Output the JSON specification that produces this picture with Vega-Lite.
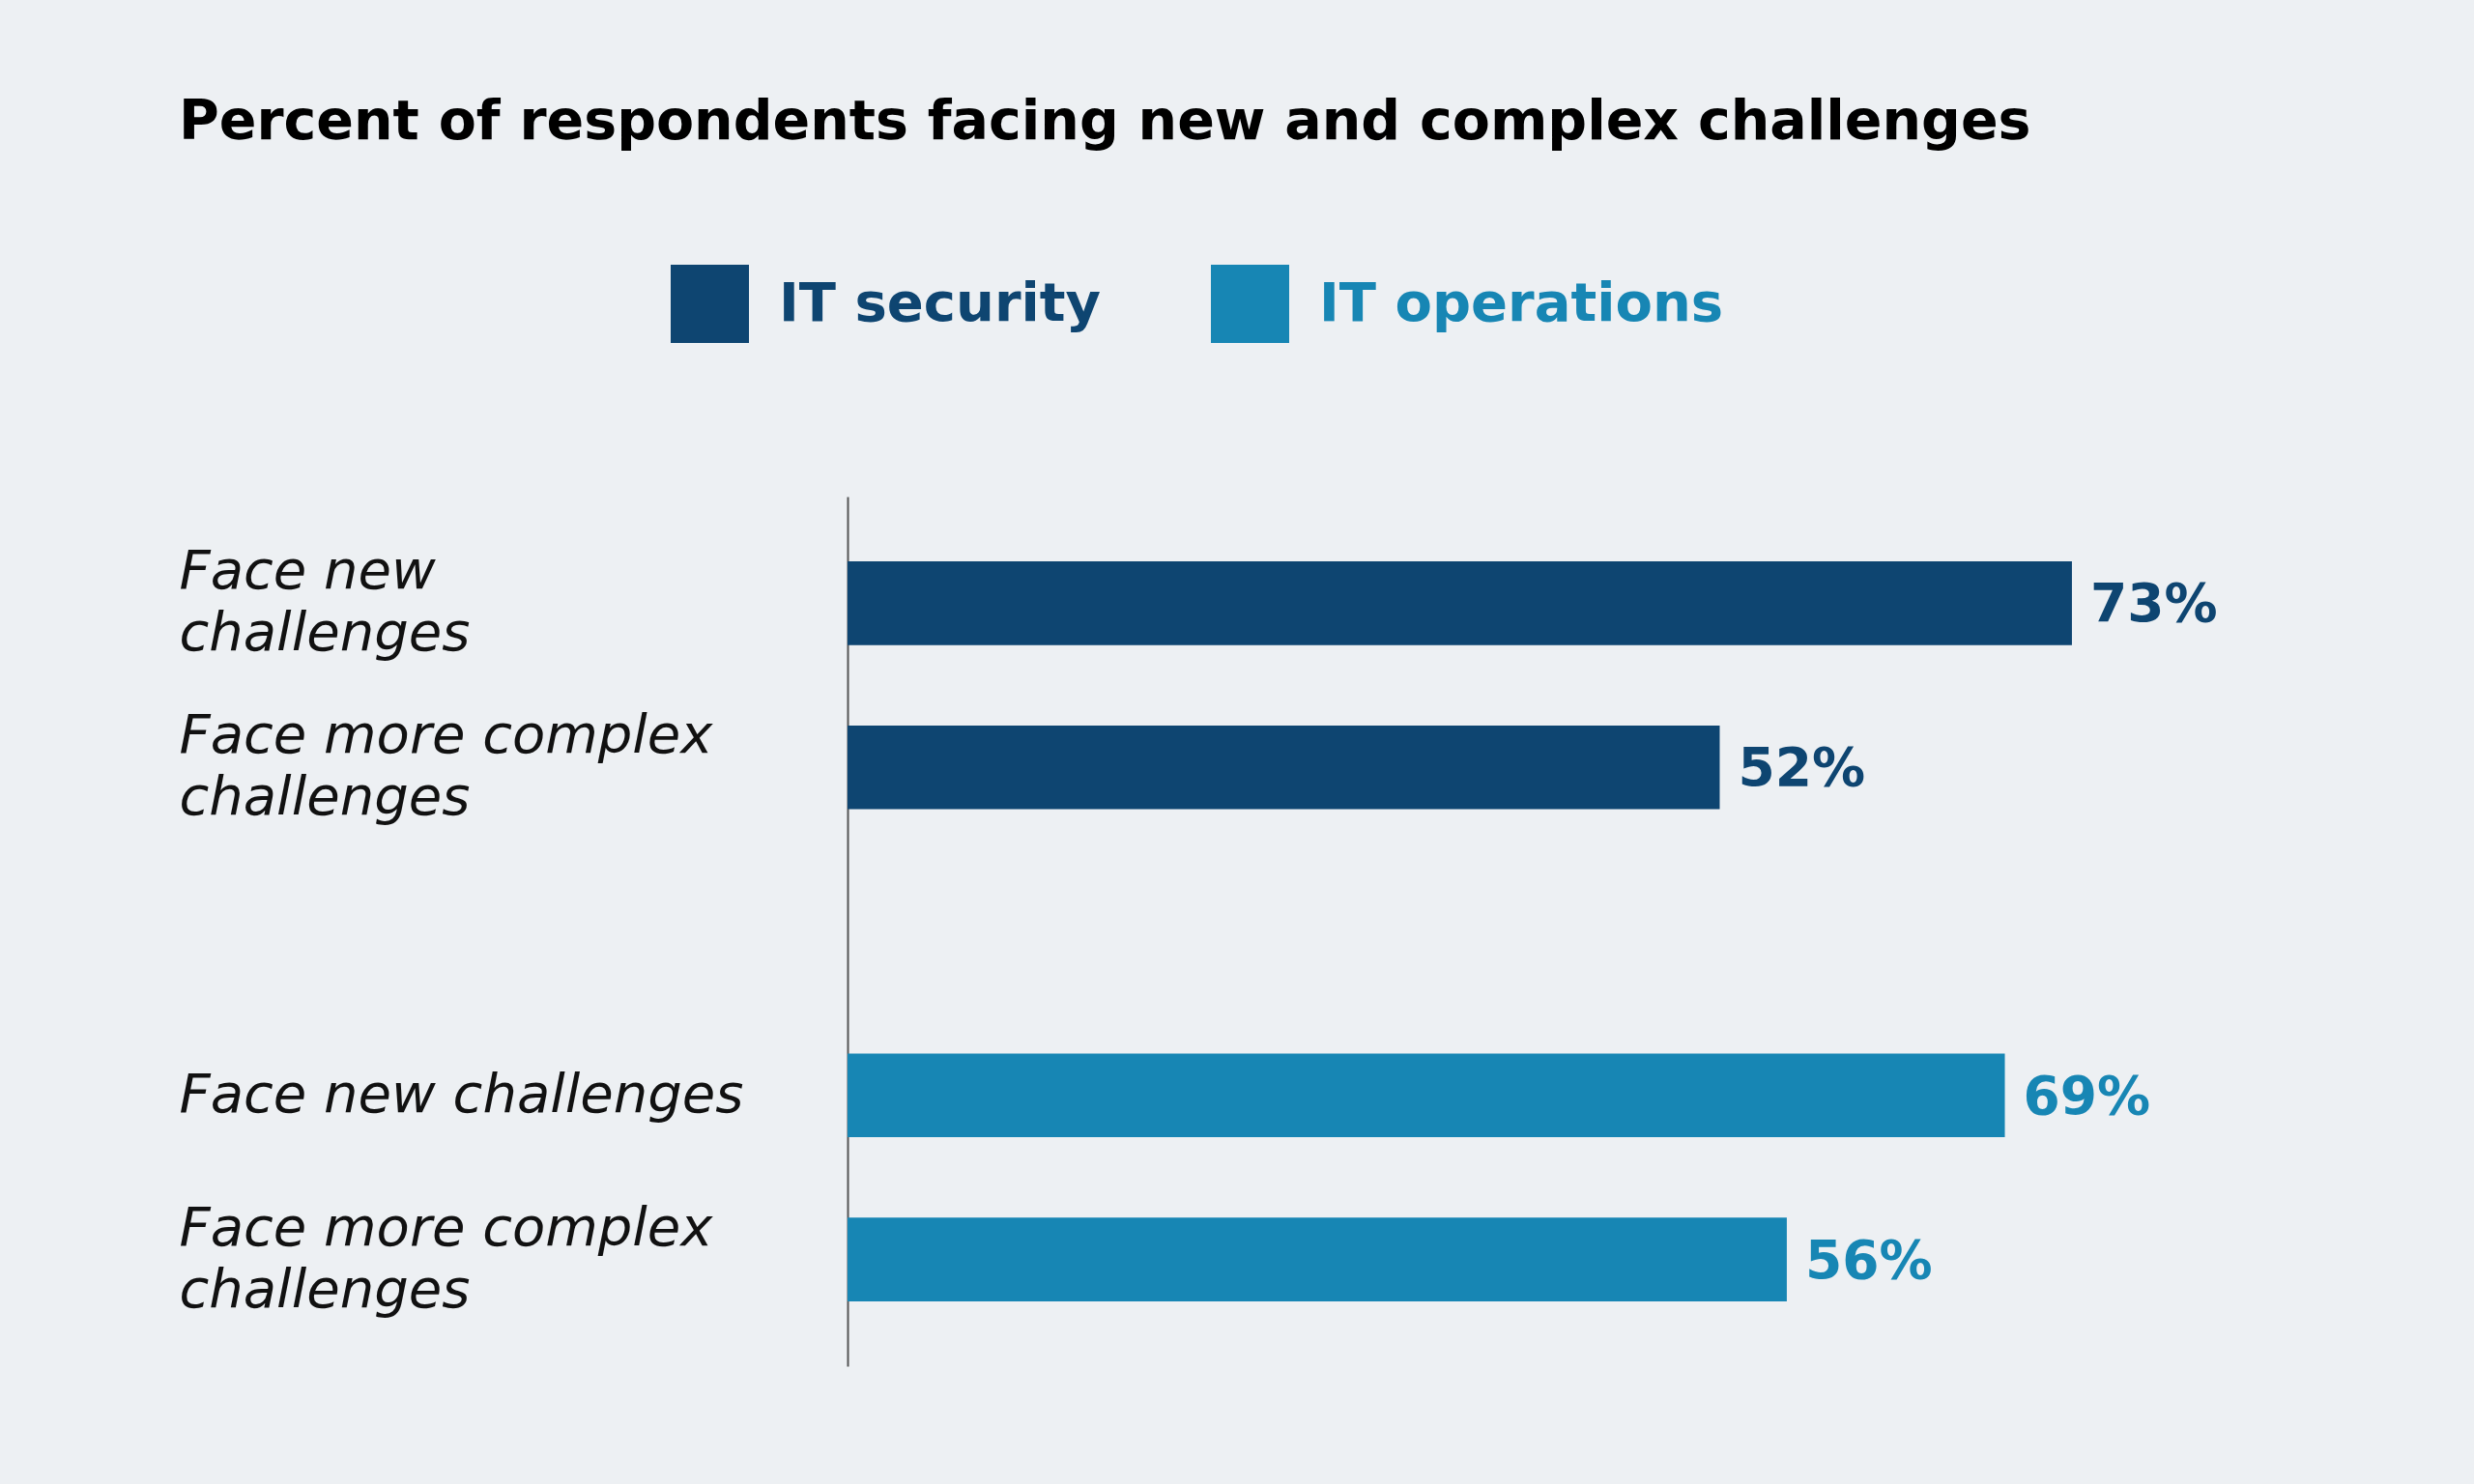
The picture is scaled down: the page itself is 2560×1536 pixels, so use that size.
{
  "$schema": "https://vega.github.io/schema/vega-lite/v6.json",
  "background": "#edf0f3",
  "autosize": {"type": "none"},
  "padding": {"left": 877, "top": 514, "right": 121, "bottom": 122},
  "width": 1562,
  "height": 900,
  "title": {
    "text": "Percent of respondents facing new and complex challenges",
    "anchor": "start",
    "frame": "group",
    "dx": -692,
    "offset": 73,
    "baseline": "alphabetic",
    "font": "DejaVu Sans",
    "fontSize": 57,
    "fontWeight": "bold",
    "color": "#000000"
  },
  "data": {
    "values": [
      {"row": "sec_new", "team": "IT security", "value": 0.73},
      {"row": "sec_complex", "team": "IT security", "value": 0.52},
      {"row": "ops_new", "team": "IT operations", "value": 0.69},
      {"row": "ops_complex", "team": "IT operations", "value": 0.56}
    ]
  },
  "encoding": {
    "y": {
      "field": "row",
      "type": "nominal",
      "scale": {
        "domain": ["sec_new", "sec_complex", "gap", "ops_new", "ops_complex"],
        "paddingInner": 0.49,
        "paddingOuter": 0.395
      },
      "axis": {
        "title": null,
        "ticks": false,
        "grid": false,
        "domain": true,
        "domainColor": "#555555",
        "domainWidth": 2,
        "labelAlign": "left",
        "labelBaseline": "middle",
        "labelPadding": 692,
        "labelFont": "DejaVu Sans",
        "labelFontSize": 56,
        "labelFontStyle": "italic",
        "labelColor": "#111111",
        "labelLineHeight": 64,
        "labelLimit": 0,
        "labelOffset": {"condition": {"test": "datum.value == 'ops_new'", "value": 0}, "value": -32},
        "labelExpr": "datum.value == 'sec_new' ? ['Face new', 'challenges'] : datum.value == 'ops_new' ? 'Face new challenges' : datum.value == 'gap' ? '' : ['Face more complex', 'challenges']"
      }
    },
    "x": {
      "field": "value",
      "type": "quantitative",
      "scale": {"domain": [0, 0.9], "nice": false},
      "axis": null
    },
    "color": {
      "field": "team",
      "type": "nominal",
      "scale": {"domain": ["IT security", "IT operations"], "range": ["#0e4571", "#1786b4"]}
    }
  },
  "layer": [
    {
      "mark": {"type": "bar"},
      "encoding": {
        "color": {
          "field": "team",
          "type": "nominal",
          "scale": {"domain": ["IT security", "IT operations"], "range": ["#0e4571", "#1786b4"]},
          "legend": {
            "orient": "none",
            "legendX": -183,
            "legendY": -240,
            "direction": "horizontal",
            "title": null,
            "padding": 0,
            "symbolType": "square",
            "symbolSize": 6561,
            "symbolStrokeWidth": 0,
            "symbolOpacity": 1,
            "labelFont": "DejaVu Sans",
            "labelFontSize": 56,
            "labelFontWeight": "bold",
            "labelOffset": 31,
            "columnPadding": 114,
            "labelLimit": 0,
            "encode": {
              "labels": {"update": {"fill": {"scale": "color", "field": "value"}}}
            }
          }
        }
      }
    },
    {
      "mark": {
        "type": "text",
        "align": "left",
        "baseline": "middle",
        "dx": 19,
        "dy": 2,
        "font": "DejaVu Sans",
        "fontSize": 55,
        "fontWeight": "bold"
      },
      "encoding": {
        "text": {"field": "value", "type": "quantitative", "format": ".0%"},
        "color": {"field": "team", "type": "nominal", "legend": null}
      }
    }
  ],
  "config": {
    "view": {"stroke": null}
  }
}
